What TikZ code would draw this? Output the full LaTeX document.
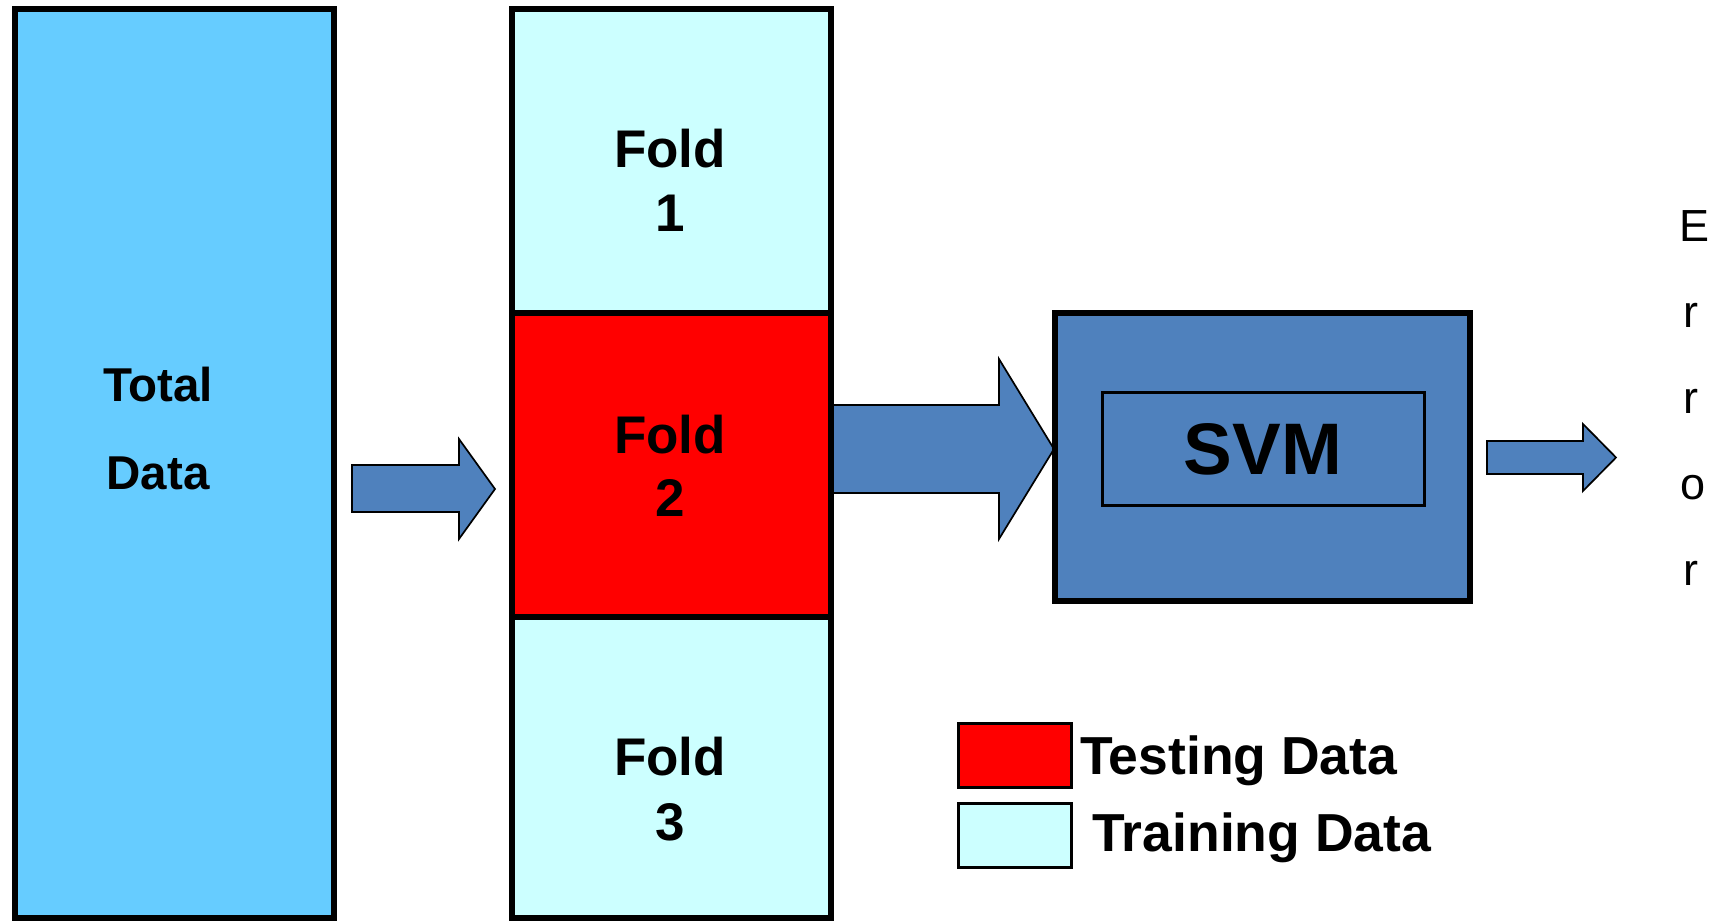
\documentclass[tikz,border=0pt]{standalone}
\usepackage{fontspec}
\setmainfont{Liberation Sans}
\definecolor{totalblue}{HTML}{66CCFF}
\definecolor{trainfill}{HTML}{CCFFFF}
\definecolor{testfill}{HTML}{FF0000}
\definecolor{svmblue}{HTML}{4F81BD}
\tikzset{
  databox/.style={draw=black, line width=5.5pt, inner sep=0pt, minimum width=319pt},
  legendbox/.style={draw=black, line width=3pt, inner sep=0pt, minimum width=113pt, minimum height=64pt},
  blockarrow/.style={fill=svmblue, draw=black, line width=1.7pt, line join=miter},
  boldlabel/.style={font=\fontsize{53}{53}\selectfont\bfseries, inner sep=0pt, anchor=base},
  legendlabel/.style={font=\fontsize{53.5}{53.5}\selectfont\bfseries, inner sep=0pt, anchor=base west},
  totallabel/.style={font=\fontsize{47.5}{47.5}\selectfont\bfseries, inner sep=0pt, anchor=base},
  errletter/.style={font=\fontsize{45}{45}\selectfont, inner sep=0pt, anchor=base},
}
\begin{document}
\begin{tikzpicture}[x=1pt, y=-1pt]
  \useasboundingbox (0,0) rectangle (1721,921);

  % block arrows (drawn first so the boxes sit on top of their ends)
  \draw[blockarrow] (352,465) -- (459,465) -- (459,439) -- (495,489)
       -- (459,539) -- (459,512) -- (352,512) -- cycle;
  \draw[blockarrow] (832,405) -- (999,405) -- (999,359) -- (1054,449)
       -- (999,539) -- (999,493) -- (832,493) -- cycle;
  \draw[blockarrow] (1487,441) -- (1583,441) -- (1583,424) -- (1616,457.5)
       -- (1583,491) -- (1583,474) -- (1487,474) -- cycle;

  % whole data set
  \node[databox, fill=totalblue, minimum height=909pt] (total) at (174.5,463.5) {};
  \node[totallabel] (totalA) at (158,401) {Total};
  \node[totallabel] (totalB) at (158,489) {Data};

  % the three folds
  \node[databox, fill=trainfill, minimum height=304pt] (fold1) at (671.5,161) {};
  \node[databox, fill=testfill,  minimum height=304pt] (fold2) at (671.5,465) {};
  \node[databox, fill=trainfill, minimum height=301pt] (fold3) at (671.5,767.5) {};
  \node[boldlabel] (f1a) at (670,167) {Fold};
  \node[boldlabel] (f1b) at (670,231) {1};
  \node[boldlabel] (f2a) at (670,453) {Fold};
  \node[boldlabel] (f2b) at (670,516) {2};
  \node[boldlabel] (f3a) at (670,775) {Fold};
  \node[boldlabel] (f3b) at (670,840) {3};

  % classifier
  \node[draw=black, line width=6.5pt, fill=svmblue, inner sep=0pt,
        minimum width=415pt, minimum height=288pt] (svmouter) at (1262.5,457) {};
  \node[draw=black, line width=3pt, inner sep=0pt,
        minimum width=322pt, minimum height=113pt] (svminner) at (1263,448.5) {};
  \node[font=\fontsize{73}{73}\selectfont\bfseries, inner sep=0pt, anchor=base]
        (svmtext) at (1263,474) {SVM};

  % output, written vertically
  \node[errletter] (e1) at (1694,241) {E};
  \node[errletter] (e2) at (1691,327) {r};
  \node[errletter] (e3) at (1691,413) {r};
  \node[errletter] (e4) at (1693,499) {o};
  \node[errletter] (e5) at (1691,585) {r};

  % legend
  \node[legendbox, fill=testfill]  (legtest)  at (1015,755) {};
  \node[legendbox, fill=trainfill] (legtrain) at (1015,835) {};
  \node[legendlabel] (legtesttext)  at (1080,774) {Testing Data};
  \node[legendlabel] (legtraintext) at (1092,851) {Training Data};
\end{tikzpicture}
\end{document}
